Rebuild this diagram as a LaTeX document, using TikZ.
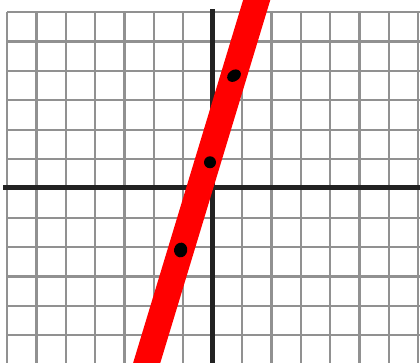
\documentclass[tikz,border=0pt]{standalone}
\definecolor{rejilla}{RGB}{145,145,145}
\definecolor{ejes}{RGB}{34,34,34}
\begin{document}
\begin{tikzpicture}[x=29.35pt,y=29.35pt]
\useasboundingbox (-7.247,-5.98) rectangle (7.063,6.388);
\clip (-7.247,-5.98) rectangle (7.063,6.388);

% Cuadricula
\foreach \x in {-7,...,7}
    \draw [line width=2.3pt, rejilla] (\x,5.97) -- (\x,-6.2);
\foreach \y in {-5,...,6}
    \draw [line width=2.3pt, rejilla] (-7,\y-0.03) -- (7.2,\y-0.03);

% Ejes
\draw [line width=4.5pt, ejes] (-7.13,0) -- (7.2,0);
\draw [line width=4.5pt, ejes] (0,6.08) -- (0,-6.2);

% Recta
\draw [line width=26pt, red] (1.874,7.625) -- (-2.624,-7.217);

% Puntos
\fill [shift={(0.726,3.81)}, rotate=35] (0,0) ellipse (7.4pt and 5.6pt);
\fill [shift={(-0.092,0.859)}] (0,0) circle (6pt);
\fill [shift={(-1.09,-2.13)}, rotate=80] (0,0) ellipse (7.4pt and 6.6pt);
\end{tikzpicture}
\end{document}
